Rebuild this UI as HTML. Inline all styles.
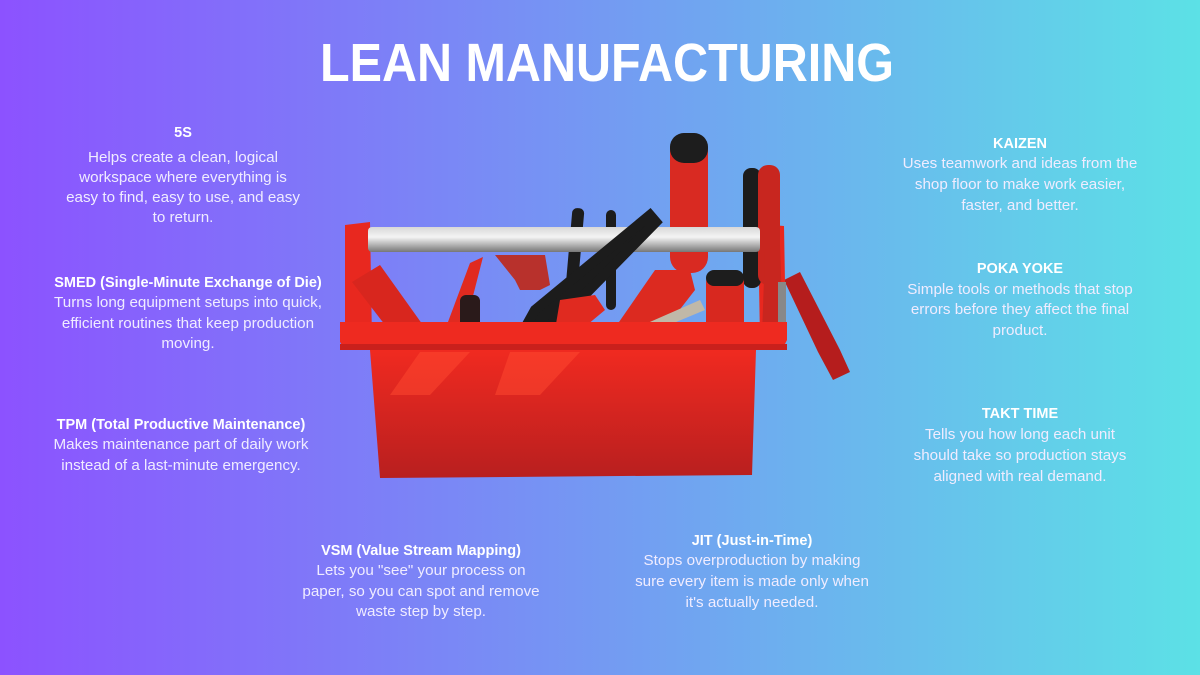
<!DOCTYPE html>
<html><head><meta charset="utf-8"><style>
html,body{margin:0;padding:0;width:1200px;height:675px;overflow:hidden}
svg{display:block}
.h{font-family:"Liberation Sans",sans-serif;font-weight:bold;font-size:14.5px;fill:#fff;text-anchor:middle}
.b{font-family:"Liberation Sans",sans-serif;font-size:15.2px;fill:#f0ecff;text-anchor:middle}
</style></head><body>
<svg width="1200" height="675" viewBox="0 0 1200 675" xmlns="http://www.w3.org/2000/svg">
<defs>
<linearGradient id="bg" x1="0" y1="0" x2="1" y2="0">
<stop offset="0" stop-color="#8c52ff"/><stop offset="1" stop-color="#5ce1e6"/>
</linearGradient>
<linearGradient id="bar" x1="0" y1="0" x2="0" y2="1">
<stop offset="0" stop-color="#d8d8d8"/><stop offset="0.4" stop-color="#f4f4f4"/><stop offset="1" stop-color="#777"/>
</linearGradient>
<linearGradient id="box" x1="0" y1="0" x2="0" y2="1">
<stop offset="0" stop-color="#f02a20"/><stop offset="1" stop-color="#b81f1f"/>
</linearGradient>
</defs>
<rect width="1200" height="675" fill="url(#bg)"/>
<text x="607" y="81" font-family="Liberation Sans, sans-serif" font-weight="bold" font-size="54" fill="#fff" text-anchor="middle" textLength="574" lengthAdjust="spacingAndGlyphs">LEAN MANUFACTURING</text>

<g>
<path d="M784 280 L800 272 L840 350 L850 372 L833 380 L818 352 Z" fill="#b51d1d"/>
<path d="M345 225 L370 222 L372 340 L345 342 Z" fill="#e8281f"/>
<path d="M758 224 L784 226 L786 340 L760 340 Z" fill="#e8281f"/>
<rect x="568" y="208" width="12" height="110" rx="5" fill="#1c1c1c" transform="rotate(5 574 260)"/>
<rect x="606" y="210" width="10" height="100" rx="5" fill="#1c1c1c"/>
<rect x="670" y="133" width="38" height="140" rx="16" fill="#d92a22"/>
<rect x="670" y="133" width="38" height="30" rx="14" fill="#1d1d1d"/>
<rect x="743" y="168" width="18" height="120" rx="8" fill="#1c1c1c"/>
<rect x="758" y="165" width="22" height="120" rx="10" fill="#c8261f"/>
<rect x="368" y="227" width="392" height="25" rx="4" fill="url(#bar)"/>
<path d="M352 282 L380 265 L430 335 L395 338 Z" fill="#d8261e"/>
<path d="M445 330 L470 263 L483 257 L463 335 Z" fill="#e02a20"/>
<rect x="460" y="295" width="20" height="42" rx="6" fill="#2a1a1a"/>
<path d="M495 255 L545 255 L550 285 L540 290 L520 290 L515 280 Z" fill="#b8312c"/>
<path d="M520 337 L535 310 L650 215 L656 222 L560 320 Z" fill="#1c1c1c" stroke="#1c1c1c" stroke-width="10" stroke-linecap="round"/>
<path d="M560 300 L595 295 L605 310 L575 335 L555 330 Z" fill="#e02a20"/>
<path d="M610 335 L655 270 L690 270 L695 290 L660 335 Z" fill="#dc2a20"/>
<path d="M620 335 L700 300 L705 310 L640 337 Z" fill="#c0b8a8"/>
<rect x="706" y="270" width="38" height="65" rx="12" fill="#d8281f"/>
<rect x="706" y="270" width="38" height="16" rx="8" fill="#1d1d1d"/>
<path d="M765 250 L780 245 L783 335 L762 335 Z" fill="#c8261f"/>
<rect x="778" y="282" width="8" height="50" fill="#888"/>
<path d="M340 322 L787 322 L787 340 L782 350 L345 350 L340 342 Z" fill="#ee2a20"/>
<rect x="340" y="344" width="447" height="6" fill="#c9201c"/>
<path d="M370 350 L756 350 L752 475 L380 478 Z" fill="url(#box)"/>
<path d="M420 352 L470 352 L430 395 L390 395 Z" fill="#ff4a30" opacity="0.5"/>
<path d="M510 352 L580 352 L540 395 L495 395 Z" fill="#ff4a30" opacity="0.5"/>
</g>

<text class="h" x="183" y="137">5S</text>
<text class="b" x="183" y="162">Helps create a clean, logical</text>
<text class="b" x="183" y="182">workspace where everything is</text>
<text class="b" x="183" y="202">easy to find, easy to use, and easy</text>
<text class="b" x="183" y="222">to return.</text>

<text class="h" x="188" y="287">SMED (Single-Minute Exchange of Die)</text>
<text class="b" x="188" y="307">Turns long equipment setups into quick,</text>
<text class="b" x="188" y="328">efficient routines that keep production</text>
<text class="b" x="188" y="348">moving.</text>

<text class="h" x="181" y="429">TPM (Total Productive Maintenance)</text>
<text class="b" x="181" y="449">Makes maintenance part of daily work</text>
<text class="b" x="181" y="470">instead of a last-minute emergency.</text>

<text class="h" x="421" y="555">VSM (Value Stream Mapping)</text>
<text class="b" x="421" y="575">Lets you "see" your process on</text>
<text class="b" x="421" y="596">paper, so you can spot and remove</text>
<text class="b" x="421" y="616">waste step by step.</text>

<text class="h" x="752" y="545">JIT (Just-in-Time)</text>
<text class="b" x="752" y="565">Stops overproduction by making</text>
<text class="b" x="752" y="586">sure every item is made only when</text>
<text class="b" x="752" y="607">it's actually needed.</text>

<text class="h" x="1020" y="148">KAIZEN</text>
<text class="b" x="1020" y="168">Uses teamwork and ideas from the</text>
<text class="b" x="1020" y="189">shop floor to make work easier,</text>
<text class="b" x="1020" y="210">faster, and better.</text>

<text class="h" x="1020" y="273">POKA YOKE</text>
<text class="b" x="1020" y="294">Simple tools or methods that stop</text>
<text class="b" x="1020" y="314">errors before they affect the final</text>
<text class="b" x="1020" y="335">product.</text>

<text class="h" x="1020" y="418">TAKT TIME</text>
<text class="b" x="1020" y="439">Tells you how long each unit</text>
<text class="b" x="1020" y="460">should take so production stays</text>
<text class="b" x="1020" y="481">aligned with real demand.</text>
</svg>
</body></html>
